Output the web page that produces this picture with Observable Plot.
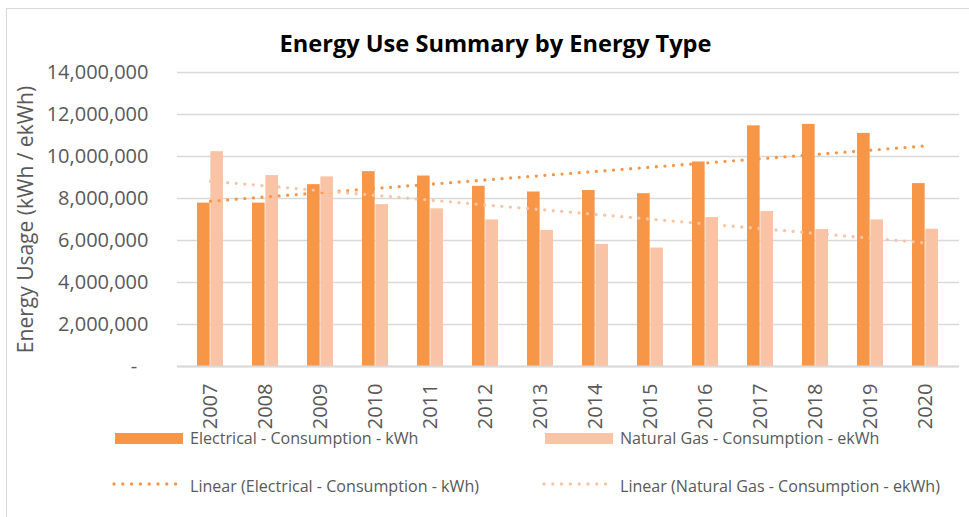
<!DOCTYPE html>
<html>
<head>
<meta charset="utf-8">
<script src="https://cdn.jsdelivr.net/npm/d3@7"></script>
<script src="https://cdn.jsdelivr.net/npm/@observablehq/plot@0.6"></script>
<style>
  html, body { margin: 0; padding: 0; background: #fff; overflow: hidden; }
  #wrap { position: relative; width: 969px; height: 517px; overflow: hidden; font-family: "Open Sans", sans-serif; }
  #frame { position: absolute; left: 6px; top: 8px; width: 1000px; height: 600px; border: 1.5px solid #d9d9d9; box-sizing: border-box; }
  #chart { position: absolute; left: 0; top: 0; }
  #title { position: absolute; left: 0; top: 32px; width: 991px; text-align: center; font-weight: 700; font-size: 23.6px; line-height: 23px; color: #000; white-space: nowrap; }
  #legend { position: absolute; left: 0; top: 420px; }
</style>
</head>
<body>
<div id="wrap">
  <div id="frame"></div>
  <div id="chart"></div>
  <div id="title">Energy Use Summary by Energy Type</div>
  <svg id="legend" width="969" height="97"></svg>
</div>
<script>
// ---- data ----
const years = ["2007","2008","2009","2010","2011","2012","2013","2014","2015","2016","2017","2018","2019","2020"];
const electrical = [7780000, 7780000, 8660000, 9280000, 9070000, 8580000, 8310000, 8380000, 8230000, 9740000, 11460000, 11530000, 11100000, 8710000];
const naturalGas = [10230000, 9090000, 9030000, 7710000, 7510000, 6980000, 6480000, 5810000, 5640000, 7090000, 7380000, 6520000, 6980000, 6540000];
const yTicks = [0, 2000000, 4000000, 6000000, 8000000, 10000000, 12000000, 14000000];
const seriesNames = ["Electrical - Consumption - kWh", "Natural Gas - Consumption - ekWh"];
const trendNames = ["Linear (Electrical - Consumption - kWh)", "Linear (Natural Gas - Consumption - ekWh)"];
const yLabel = "Energy Usage (kWh / ekWh)";

const elecColor = "#F79646";
const gasColor = "#F9C3A6";
const textColor = "#595959";
const gridColor = "#d9d9d9";

const rows = years.map((year, i) => ({year, elec: electrical[i], gas: naturalGas[i]}));
const fmt = d => d === 0 ? "-\u2007" : d3.format(",")(d);

const chart = Plot.plot({
  width: 969,
  height: 435,
  marginLeft: 177,
  marginRight: 10,
  marginTop: 72,
  marginBottom: 69,
  style: {fontFamily: '"Open Sans", sans-serif', fontSize: "20px", color: textColor, background: "transparent", overflow: "visible"},
  x: {domain: years, paddingInner: 0.522, paddingOuter: 0.261, tickRotate: -90, tickSize: 0, tickPadding: 17, label: null},
  y: {domain: [0, 14000000], ticks: yTicks, tickSize: 0, tickPadding: 29, tickFormat: fmt, label: null},
  marks: [
    Plot.ruleY(yTicks, {stroke: gridColor, strokeWidth: 1.3}),
    Plot.barY(rows, {x: "year", y: "elec", fill: elecColor, insetRight: 13.35}),
    Plot.barY(rows, {x: "year", y: "gas", fill: gasColor, insetLeft: 13.35}),
    Plot.ruleY([0], {stroke: gridColor, strokeWidth: 1.8}),
    Plot.linearRegressionY(rows, {x: "year", y: "elec", stroke: elecColor, strokeWidth: 3.3, strokeDasharray: "0 8.6", strokeLinecap: "round", ci: 0}),
    Plot.linearRegressionY(rows, {x: "year", y: "gas", stroke: gasColor, strokeWidth: 3.3, strokeDasharray: "0 8.6", strokeLinecap: "round", ci: 0}),
    Plot.text([yLabel], {text: d => d, frameAnchor: "left", textAnchor: "middle", rotate: -90, dx: -151, fontSize: 21, fill: textColor})
  ]
});
document.getElementById("chart").appendChild(chart);

// ---- legend ----
const leg = d3.select("#legend");
const legFont = '"Open Sans", sans-serif';
const cols = [{sx: 115, tx: 190, color: elecColor}, {sx: 545, tx: 620, color: gasColor}];
cols.forEach((c, i) => {
  leg.append("rect").attr("x", c.sx).attr("y", 13).attr("width", 68).attr("height", 11).attr("fill", c.color);
  leg.append("text").attr("x", c.tx).attr("y", 24).attr("font-family", legFont).attr("font-size", 16.1).attr("fill", textColor).text(seriesNames[i]);
  leg.append("line").attr("x1", c.sx - 1).attr("x2", c.sx + 61).attr("y1", 64).attr("y2", 64)
    .attr("stroke", c.color).attr("stroke-width", 3.3).attr("stroke-dasharray", "0 8.8").attr("stroke-linecap", "round");
  leg.append("text").attr("x", c.tx).attr("y", 72).attr("font-family", legFont).attr("font-size", 16.1).attr("fill", textColor).text(trendNames[i]);
});
</script>
</body>
</html>
